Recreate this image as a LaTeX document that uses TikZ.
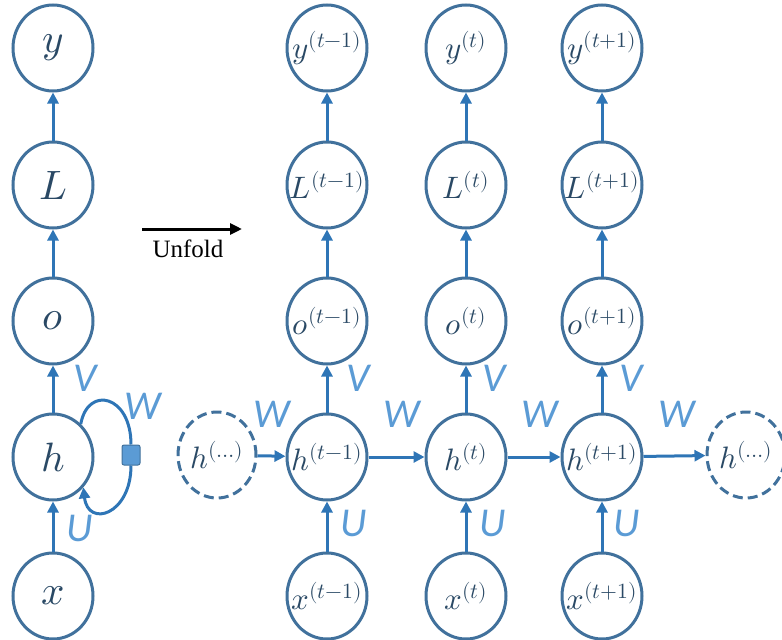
\documentclass[tikz,border=0pt]{standalone}
\usepackage{fontspec}
\usepackage{unicode-math}
\setmainfont{Liberation Serif}
\setmathfont{Latin Modern Math}
\newfontfamily\labelfont{Carlito}
\usetikzlibrary{arrows.meta,shapes.geometric}
\definecolor{ring}{HTML}{41719C}
\definecolor{link}{HTML}{2E75B6}
\definecolor{wlabel}{HTML}{5B9BD5}
% zero-width box so the ellipse keeps its fixed size whatever the label
\newcommand{\fitlabel}[1]{\makebox[0pt]{#1}}
\begin{document}
\begin{tikzpicture}[x=1pt,y=-1pt,
  unit/.style={ellipse, draw=ring, line width=3pt, minimum width=80pt,
    minimum height=86pt, inner sep=0pt, text=ring!65!black},
  big/.style={unit, font=\fontsize{41}{44}\selectfont},
  small/.style={unit, font=\fontsize{31}{34}\selectfont},
  ghost/.style={small, minimum width=78pt, dash pattern=on 10pt off 5pt},
  link/.style={draw=link, line width=3pt, -{Triangle[length=11pt,width=11pt]}},
  wt/.style={text=wlabel, font=\labelfont\itshape\fontsize{41}{44}\selectfont, inner sep=0pt},
  gate/.style={draw=ring, fill=wlabel, line width=1pt, rounded corners=2pt,
    minimum width=18pt, minimum height=20pt, inner sep=0pt}
]
\useasboundingbox (0,0) rectangle (782,640);

% folded network
\node[big] (y0) at (53,48) {$y$};
\node[big] (L0) at (53,185) {$L$};
\node[big] (o0) at (53,321) {$o$};
\node[big] (h0) at (53,457) {$h$};
\node[big] (x0) at (53,596) {$x$};
\draw[link] (x0) -- (h0);
\draw[link] (h0) -- (o0);
\draw[link] (o0) -- (L0);
\draw[link] (L0) -- (y0);
\node[wt] (U0) at (80,528) {U};
\node[wt] (V0) at (85,378) {V};
\node[wt] (W0) at (143,406) {W};

% recurrent self loop with its delay square
\node[gate] (sq) at (131,455) {};
\draw[draw=link, line width=3pt] (h0.50) .. controls (88,385) and (131,395) .. (sq.north);
\draw[link] (sq.south) .. controls (131,515) and (88,528) .. (h0.-45);

% unfold arrow
\coordinate (ua) at (142,229);
\coordinate (ub) at (242,229);
\draw[line width=3pt, -{Triangle[length=12pt,width=11pt]}] (ua) -- (ub);
\node[font=\fontsize{25}{28}\selectfont] (unf) at (188,249) {Unfold};

% unfolded network
\foreach \c/\t/\xx in {a/t-1/327, b/t/466, c/t+1/602}{
  \node[small] (y\c) at (\xx,48) {\fitlabel{$y^{(\t)}$}};
  \node[small] (L\c) at (\xx,185) {\fitlabel{$L^{(\t)}$}};
  \node[small] (o\c) at (\xx,321) {\fitlabel{$o^{(\t)}$}};
  \node[small] (h\c) at (\xx,457) {\fitlabel{$h^{(\t)}$}};
  \node[small] (x\c) at (\xx,596) {\fitlabel{$x^{(\t)}$}};
  \draw[link] (x\c) -- (h\c);
  \draw[link] (h\c) -- (o\c);
  \draw[link] (o\c) -- (L\c);
  \draw[link] (L\c) -- (y\c);
}
\node[ghost] (hl) at (217,455) {\fitlabel{$h^{(\ldots)}$}};
\node[ghost] (hr) at (746,455) {\fitlabel{$h^{(\ldots)}$}};
\draw[link] (hl) -- (ha);
\draw[link] (ha) -- (hb);
\draw[link] (hb) -- (hc);
\draw[link] (hc) -- (hr);

\node[wt] (Va) at (358,378) {V};
\node[wt] (Vb) at (494,378) {V};
\node[wt] (Vc) at (631,378) {V};
\node[wt] (Ua) at (354,523) {U};
\node[wt] (Ub) at (493,523) {U};
\node[wt] (Uc) at (627,523) {U};
\node[wt] (Wa) at (272,414) {W};
\node[wt] (Wb) at (402,414) {W};
\node[wt] (Wc) at (540,414) {W};
\node[wt] (Wd) at (677,414) {W};
\end{tikzpicture}
\end{document}
